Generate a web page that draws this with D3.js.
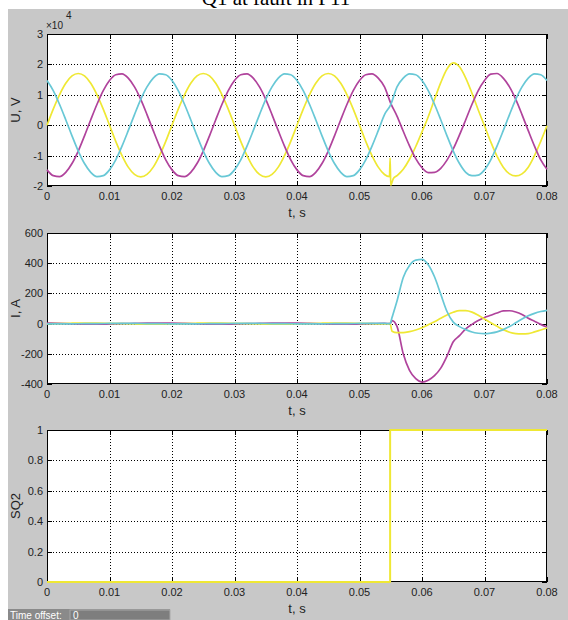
<!DOCTYPE html>
<html>
<head>
<meta charset="utf-8">
<script src="https://cdnjs.cloudflare.com/ajax/libs/d3/7.8.5/d3.min.js"></script>
<style>
  body { margin: 0; background: #fff; }
  svg { display: block; }
  text { font-family: "Liberation Sans", Arial, sans-serif; }
</style>
</head>
<body>
<script>
// ---- data ----
var xTicks = [0, 0.01, 0.02, 0.03, 0.04, 0.05, 0.06, 0.07, 0.08];
var xTickLabels = ["0", "0.01", "0.02", "0.03", "0.04", "0.05", "0.06", "0.07", "0.08"];

// voltages, sampled every 1 ms, in units of 1e4 V
var tU = d3.range(0, 81).map(function(i) { return i / 1000; });
var uA = [0, 0.53, 1.00, 1.38, 1.62, 1.70, 1.62, 1.38, 1.00, 0.53, 0, -0.53, -1.00, -1.38, -1.62, -1.70, -1.62, -1.38, -1.00, -0.53,
          0, 0.53, 1.00, 1.38, 1.62, 1.70, 1.62, 1.38, 1.00, 0.53, 0, -0.53, -1.00, -1.38, -1.62, -1.70, -1.62, -1.38, -1.00, -0.53,
          0, 0.53, 1.00, 1.38, 1.62, 1.70, 1.62, 1.38, 1.00, 0.53, 0, -0.53, -1.00, -1.38, -1.62,
          -1.98, -1.66, -1.45, -1.12, -0.70, -0.22, 0.28, 0.85, 1.40, 1.85, 2.05, 1.92, 1.55, 1.05, 0.50,
          -0.02, -0.55, -1.02, -1.38, -1.60, -1.67, -1.60, -1.38, -1.00, -0.53, -0.02];
// extra points of the spike on phase A at the fault
var uASpikeT = [0.0548, 0.0549, 0.0554];
var uASpikeV = [-1.69, -1.08, -1.76];
var uB = [-1.47, -1.66, -1.69, -1.55, -1.26, -0.85, -0.35, 0.18, 0.69, 1.14, 1.47, 1.66, 1.69, 1.55, 1.26, 0.85, 0.35, -0.18, -0.69, -1.14,
          -1.47, -1.66, -1.69, -1.55, -1.26, -0.85, -0.35, 0.18, 0.69, 1.14, 1.47, 1.66, 1.69, 1.55, 1.26, 0.85, 0.35, -0.18, -0.69, -1.14,
          -1.47, -1.66, -1.69, -1.55, -1.26, -0.85, -0.35, 0.18, 0.69, 1.14, 1.47, 1.66, 1.69, 1.55, 1.26,
          0.72, 0.30, -0.20, -0.68, -1.10, -1.40, -1.56, -1.55, -1.42, -1.15, -0.78, -0.32, 0.18, 0.69, 1.14,
          1.47, 1.68, 1.70, 1.55, 1.26, 0.85, 0.35, -0.18, -0.69, -1.14, -1.45];
var uC = [1.47, 1.14, 0.69, 0.18, -0.35, -0.85, -1.26, -1.55, -1.69, -1.66, -1.47, -1.14, -0.69, -0.18, 0.35, 0.85, 1.26, 1.55, 1.69, 1.66,
          1.47, 1.14, 0.69, 0.18, -0.35, -0.85, -1.26, -1.55, -1.69, -1.66, -1.47, -1.14, -0.69, -0.18, 0.35, 0.85, 1.26, 1.55, 1.69, 1.66,
          1.47, 1.14, 0.69, 0.18, -0.35, -0.85, -1.26, -1.55, -1.69, -1.66, -1.47, -1.14, -0.69, -0.18, 0.35,
          0.68, 1.26, 1.55, 1.69, 1.66, 1.47, 1.14, 0.69, 0.18, -0.35, -0.85, -1.26, -1.55, -1.66, -1.64,
          -1.47, -1.14, -0.69, -0.18, 0.35, 0.85, 1.26, 1.55, 1.69, 1.66, 1.47];

// currents, A: 2 ms steps before the fault, 1 ms after
var tI = [0, 0.002, 0.004, 0.006, 0.008, 0.010, 0.012, 0.014, 0.016, 0.018, 0.020, 0.022, 0.024, 0.026,
          0.028, 0.030, 0.032, 0.034, 0.036, 0.038, 0.040, 0.042, 0.044, 0.046, 0.048, 0.050, 0.052, 0.054,
          0.0549, 0.0552,
          0.056, 0.057, 0.058, 0.059, 0.060, 0.061, 0.062, 0.063, 0.064, 0.065, 0.066, 0.067, 0.068,
          0.069, 0.070, 0.071, 0.072, 0.073, 0.074, 0.075, 0.076, 0.077, 0.078, 0.079, 0.080];
var iA = [-2, 0.4, 2.6, 3.9, 3.7, 2, -0.4, -2.6, -3.9, -3.7, -2, 0.4, 2.6, 3.9,
          3.7, 2, -0.4, -2.6, -3.9, -3.7, -2, 0.4, 2.6, 3.9, 3.7, 2, -0.4, -2.6,
          0, -50,
          -60, -60, -53, -42, -28, -8, 12, 35, 57, 75, 86, 86, 76,
          55, 30, 5, -18, -40, -57, -66, -68, -66, -55, -42, -29];
var iB = [3.5, 1.5, -1.2, -3.3, -4, -3, -0.8, 1.6, 3.6, 4, 3.5, 1.5, -1.2, -3.3,
          -4, -3, -0.8, 1.6, 3.6, 4, 3.5, 1.5, -1.2, -3.3, -4, -3, -0.8, 1.6,
          0, 20,
          -18, -200, -310, -365, -387, -375, -345, -295, -215, -120, -80, -35, -5,
          20, 40, 55, 70, 84, 85, 77, 60, 35, 15, -5, -23];
var iC = [-1.5, -2, -1.4, -0.6, 0.3, 1, 1.2, 0.9, 0.2, -0.6, -1.5, -2, -1.4, -0.6,
          0.3, 1, 1.2, 0.9, 0.2, -0.6, -1.5, -2, -1.4, -0.6, 0.3, 1, 1.2, 0.9,
          0, 40,
          150, 305, 385, 420, 425, 390, 310, 195, 80, 10, -20, -40, -56,
          -64, -67, -63, -55, -40, -20, 5, 30, 52, 68, 80, 88];

// breaker signal SQ2
var tSQ = [0, 0.0549, 0.08];
var sq2 = [0, 1, 1];

var uTicks = [-2, -1, 0, 1, 2, 3];
var iTicks = [-400, -200, 0, 200, 400, 600];
var sqTicks = [0, 0.2, 0.4, 0.6, 0.8, 1];
var sqTickLabels = ["0", "0.2", "0.4", "0.6", "0.8", "1"];

var colYellow = "#efe834", colMagenta = "#b0439c", colCyan = "#68c8d6";

// ---- page ----
var W = 568, H = 620;
var svg = d3.select("body").append("svg").attr("width", W).attr("height", H);

// figure background
svg.append("rect").attr("x", 8).attr("y", 9).attr("width", W - 8).attr("height", H - 9).attr("fill", "#c8c8c8");

// clipped title
svg.append("text")
  .attr("x", 276).attr("y", 5)
  .attr("text-anchor", "middle")
  .style("font-family", "'Liberation Serif', 'Times New Roman', serif")
  .style("font-size", "21px")
  .attr("fill", "#000")
  .text("Q1 at fault in P11");

var x = d3.scaleLinear().domain([0, 0.08]).range([47, 547]);

function pairs(t, v) {
  return t.map(function(d, i) { return [d, v[i]]; });
}

function drawPanel(cfg) {
  var y = d3.scaleLinear().domain(cfg.domain).range([cfg.bottom, cfg.top]);
  var g = svg.append("g");
  var x0 = x.range()[0], x1 = x.range()[1];

  g.append("rect").attr("x", x0).attr("y", cfg.top)
    .attr("width", x1 - x0).attr("height", cfg.bottom - cfg.top).attr("fill", "#fff");

  // dotted grid
  g.selectAll(".gx").data(xTicks.slice(1, -1)).enter().append("line")
    .attr("x1", function(d) { return Math.round(x(d)) + 0.5; })
    .attr("x2", function(d) { return Math.round(x(d)) + 0.5; })
    .attr("y1", cfg.top).attr("y2", cfg.bottom)
    .attr("stroke", "#000").attr("stroke-width", 1).attr("stroke-dasharray", "1,2");
  g.selectAll(".gy").data(cfg.ticks.slice(1, -1)).enter().append("line")
    .attr("y1", function(d) { return Math.round(y(d)) + 0.5; })
    .attr("y2", function(d) { return Math.round(y(d)) + 0.5; })
    .attr("x1", x0).attr("x2", x1)
    .attr("stroke", "#000").attr("stroke-width", 1).attr("stroke-dasharray", "1,2");

  // box
  g.append("rect").attr("x", x0 + 0.5).attr("y", cfg.top + 0.5)
    .attr("width", x1 - x0 - 1).attr("height", cfg.bottom - cfg.top - 1)
    .attr("fill", "none").attr("stroke", "#000").attr("stroke-width", 1);

  // inward ticks, all four sides
  var tl = 5;
  xTicks.forEach(function(d) {
    var px = Math.round(x(d)) + 0.5;
    g.append("line").attr("x1", px).attr("x2", px).attr("y1", cfg.bottom).attr("y2", cfg.bottom - tl).attr("stroke", "#000");
    g.append("line").attr("x1", px).attr("x2", px).attr("y1", cfg.top).attr("y2", cfg.top + tl).attr("stroke", "#000");
  });
  cfg.ticks.forEach(function(d) {
    var py = Math.round(y(d)) + 0.5;
    g.append("line").attr("x1", x0).attr("x2", x0 + tl).attr("y1", py).attr("y2", py).attr("stroke", "#000");
    g.append("line").attr("x1", x1).attr("x2", x1 - tl).attr("y1", py).attr("y2", py).attr("stroke", "#000");
  });

  // tick labels
  g.selectAll(".xl").data(xTicks).enter().append("text")
    .attr("x", function(d) { return x(d); })
    .attr("y", cfg.bottom + 14)
    .attr("text-anchor", "middle")
    .style("font-size", "11px").attr("fill", "#222")
    .text(function(d, i) { return xTickLabels[i]; });
  g.selectAll(".yl").data(cfg.ticks).enter().append("text")
    .attr("x", x0 - 4)
    .attr("y", function(d) { return y(d); })
    .attr("dy", "0.36em")
    .attr("text-anchor", "end")
    .style("font-size", "11px").attr("fill", "#222")
    .text(function(d, i) { return cfg.tickLabels[i]; });

  // axis titles
  g.append("text").attr("x", 297).attr("y", cfg.bottom + 31)
    .attr("text-anchor", "middle").style("font-size", "13px").attr("fill", "#222")
    .text("t, s");
  g.append("text")
    .attr("transform", "translate(20," + ((cfg.top + cfg.bottom) / 2) + ") rotate(-90)")
    .attr("text-anchor", "middle").style("font-size", "13px").attr("fill", "#222")
    .text(cfg.ylabel);

  // signals
  var line = d3.line()
    .x(function(d) { return x(d[0]); })
    .y(function(d) { return y(d[1]); })
    .curve(cfg.curve);
  cfg.series.forEach(function(s) {
    g.append("path").datum(s.points)
      .attr("d", line)
      .attr("fill", "none")
      .attr("stroke", s.color)
      .attr("stroke-width", cfg.lineWidth)
      .attr("stroke-linejoin", "round");
  });
  return g;
}

// phase A with spike points merged in
var uAPoints = pairs(tU, uA).concat(pairs(uASpikeT, uASpikeV))
  .sort(function(a, b) { return a[0] - b[0]; });

drawPanel({
  top: 34, bottom: 186, domain: [-2, 3], ticks: uTicks,
  tickLabels: uTicks.map(String), ylabel: "U, V",
  curve: d3.curveMonotoneX, lineWidth: 1.7,
  series: [
    { color: colYellow, points: uAPoints },
    { color: colMagenta, points: pairs(tU, uB) },
    { color: colCyan, points: pairs(tU, uC) }
  ]
});
// exponent label
svg.append("text").attr("x", 46).attr("y", 29).style("font-size", "10px").attr("fill", "#222").text("\u00d710");
svg.append("text").attr("x", 66).attr("y", 19).style("font-size", "10px").attr("fill", "#222").text("4");

drawPanel({
  top: 233, bottom: 384, domain: [-400, 600], ticks: iTicks,
  tickLabels: iTicks.map(String), ylabel: "I, A",
  curve: d3.curveMonotoneX, lineWidth: 1.7,
  series: [
    { color: colMagenta, points: pairs(tI, iB) },
    { color: colYellow, points: pairs(tI, iA) },
    { color: colCyan, points: pairs(tI, iC) }
  ]
});

drawPanel({
  top: 430, bottom: 582, domain: [0, 1], ticks: sqTicks,
  tickLabels: sqTickLabels, ylabel: "SQ2",
  curve: d3.curveStepAfter, lineWidth: 2,
  series: [
    { color: colYellow, points: pairs(tSQ, sq2) }
  ]
});

// "Time offset" strip at the bottom
svg.append("rect").attr("x", 8).attr("y", 609).attr("width", 162).attr("height", 11).attr("fill", "#8a8a8a");
svg.append("rect").attr("x", 70).attr("y", 610).attr("width", 100).attr("height", 10).attr("fill", "#7e7e7e")
  .attr("stroke", "#a8a8a8").attr("stroke-width", 1);
svg.append("text").attr("x", 10).attr("y", 619).style("font-size", "10px").attr("fill", "#fff").text("Time offset:");
svg.append("text").attr("x", 73).attr("y", 619).style("font-size", "10px").attr("fill", "#fff").text("0");
</script>
</body>
</html>
